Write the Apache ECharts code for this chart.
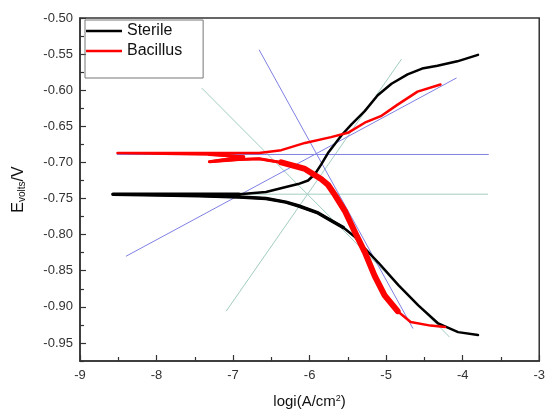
<!DOCTYPE html>
<html><head><meta charset="utf-8">
<script src="https://cdn.jsdelivr.net/npm/echarts@6/dist/echarts.min.js"></script>
<style>html,body{margin:0;padding:0;background:#fff}#c{width:548px;height:414px}</style>
</head><body><div id="c"></div>
<script>
// x tick labels (log i) and y tick labels (E / V)
const xTicks = [-9, -8, -7, -6, -5, -4, -3];
const xMinorTicks = [-8.5, -7.5, -6.5, -5.5, -4.5, -3.5];
const yTicks = [-0.95, -0.90, -0.85, -0.80, -0.75, -0.70, -0.65, -0.60, -0.55, -0.50];
const yMinorTicks = [-0.975, -0.925, -0.875, -0.825, -0.775, -0.725, -0.675, -0.625, -0.575, -0.525];

// Sterile polarization curve [log i, E], cathodic end -> Ecorr -> anodic end
const sterileData = [
  [-3.80,-0.939],[-4.06,-0.935],[-4.32,-0.923],[-4.58,-0.898],[-4.84,-0.870],[-5.10,-0.839],
  [-5.28,-0.819],[-5.41,-0.803],[-5.56,-0.790],[-5.71,-0.781],[-5.89,-0.770],[-6.15,-0.760],
  [-6.31,-0.755],[-6.57,-0.750],[-6.92,-0.748],[-7.44,-0.746],[-7.96,-0.745],[-8.57,-0.744],
  [-7.96,-0.744],[-6.92,-0.744],[-6.57,-0.741],[-6.31,-0.734],[-6.15,-0.730],[-6.02,-0.725],
  [-5.93,-0.716],[-5.85,-0.703],[-5.76,-0.687],[-5.58,-0.662],[-5.45,-0.647],[-5.28,-0.629],
  [-5.11,-0.607],[-4.93,-0.591],[-4.72,-0.578],[-4.53,-0.570],[-4.33,-0.566],[-4.07,-0.560],
  [-3.80,-0.551]
];
// Bacillus polarization curve [log i, E]
const bacillusData = [
  [-4.23,-0.928],[-4.42,-0.926],[-4.68,-0.921],[-4.85,-0.906],[-5.02,-0.884],[-5.15,-0.857],
  [-5.28,-0.824],[-5.41,-0.796],[-5.54,-0.767],[-5.67,-0.745],[-5.76,-0.731],[-5.85,-0.723],
  [-6.06,-0.709],[-6.37,-0.700],[-6.66,-0.695],[-6.92,-0.696],[-7.31,-0.699],[-6.86,-0.692],
  [-7.31,-0.689],[-8.51,-0.687],[-7.31,-0.687],[-6.66,-0.687],[-6.37,-0.683],[-6.06,-0.673],
  [-5.72,-0.665],[-5.50,-0.659],[-5.28,-0.645],[-5.07,-0.636],[-4.85,-0.620],[-4.59,-0.602],
  [-4.29,-0.592]
];
// Tafel fit lines
const blueEcorr = [[-8.52,-0.689],[-3.66,-0.689]];
const blueCathodic = [[-6.66,-0.544],[-4.65,-0.930]];
const blueAnodic = [[-8.40,-0.830],[-4.08,-0.583]];
const grayEcorr = [[-8.56,-0.744],[-3.67,-0.744]];
const grayAnodic = [[-7.09,-0.906],[-4.80,-0.557]];
const grayCathodic = [[-7.41,-0.597],[-4.17,-0.942]];

const FONT = 'Liberation Sans, Arial, sans-serif';
const BLUE = '#8080e4';
const GRAY = '#a2cdc3';

function fitLine(data, color) {
  return {type:'line', data, symbol:'none', silent:true, z:1,
          lineStyle:{color, width:1}};
}
function curve(name, data, color, width, z) {
  const s = {type:'line', data, symbol:'none', z,
             lineStyle:{color, width, cap:'round', join:'round'}, itemStyle:{color}};
  if (name) s.name = name; else s.silent = true;
  return s;
}

const chart = echarts.init(document.getElementById('c'), null, {renderer:'canvas'});
chart.setOption({
  animation:false,
  backgroundColor:'#fff',
  grid:{left:80, right:6, top:18, bottom:51, show:true, borderColor:'#333', borderWidth:1.5, backgroundColor:'transparent'},
  legend:{
    data:['Sterile','Bacillus'], orient:'vertical', left:85, top:20,
    icon:'rect', itemWidth:36, itemHeight:2.5, itemGap:4, padding:[3,21,19,1],
    borderColor:'#777', borderWidth:1,
    textStyle:{fontSize:16, color:'#111', fontFamily:FONT}
  },
  xAxis:[{
    type:'value', min:-9, max:-3,
    axisLine:{show:true, onZero:false, lineStyle:{color:'#333', width:1.5}},
    axisTick:{show:true, inside:true, length:6, customValues:xTicks, lineStyle:{color:'#333', width:1.2}},
    axisLabel:{customValues:xTicks, formatter:v=>String(v), fontSize:13, color:'#333', margin:8, fontFamily:FONT},
    splitLine:{show:false},
    name:'{a|logi(A/cm}{s|2}{a|)}', nameLocation:'middle', nameGap:33,
    nameTextStyle:{rich:{a:{fontSize:15, color:'#111', fontFamily:FONT}, s:{fontSize:9, color:'#111', fontFamily:FONT, verticalAlign:'top'}}}
  },{
    type:'value', min:-9, max:-3, position:'bottom',
    axisLine:{show:false},
    axisTick:{show:true, inside:true, length:4, customValues:xMinorTicks, lineStyle:{color:'#333', width:1.2}},
    axisLabel:{show:false}, splitLine:{show:false}
  }],
  yAxis:[{
    type:'value', min:-0.975, max:-0.5,
    axisLine:{show:true, onZero:false, lineStyle:{color:'#333', width:1.5}},
    axisTick:{show:true, inside:true, length:6, customValues:yTicks, lineStyle:{color:'#333', width:1.2}},
    axisLabel:{customValues:yTicks, formatter:v=>v.toFixed(2), fontSize:13, color:'#333', margin:7, fontFamily:FONT},
    splitLine:{show:false},
    name:'{a|E}{s|volts}{a|/V}', nameLocation:'middle', nameRotate:90, nameGap:53,
    nameTextStyle:{rich:{a:{fontSize:16, color:'#111', fontFamily:FONT}, s:{fontSize:10, color:'#111', fontFamily:FONT, verticalAlign:'bottom'}}}
  },{
    type:'value', min:-0.975, max:-0.5, position:'left',
    axisLine:{show:false},
    axisTick:{show:true, inside:true, length:4, customValues:yMinorTicks, lineStyle:{color:'#333', width:1.2}},
    axisLabel:{show:false}, splitLine:{show:false}
  }],
  series:[
    fitLine(grayEcorr, GRAY), fitLine(grayAnodic, GRAY), fitLine(grayCathodic, GRAY),
    fitLine(blueEcorr, BLUE), fitLine(blueCathodic, BLUE), fitLine(blueAnodic, BLUE),
    curve('Sterile', sterileData, '#000', 2.5, 3),
    curve(null, sterileData.slice(8,20), '#000', 3.5, 3),
    curve('Bacillus', bacillusData, '#f00', 2.5, 4),
    curve(null, bacillusData.slice(3,14), '#f00', 6, 4),
    curve(null, bacillusData.slice(13,19), '#f00', 3, 4)
  ]
});
</script>
</body></html>
